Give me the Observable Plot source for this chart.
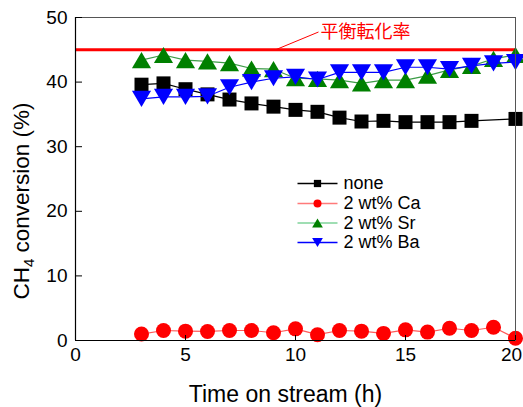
<!DOCTYPE html>
<html><head><meta charset="utf-8">
<script src="https://cdn.jsdelivr.net/npm/d3@7"></script>
<script src="https://cdn.jsdelivr.net/npm/@observablehq/plot@0.6"></script>
<style>html,body{margin:0;padding:0;background:#fff} svg{display:block}</style>
</head><body><div id="chart"></div>
<script>
// ---- data ----
const hours      = [3,4,5,6,7,8,9,10,11,12,13,14,15,16,17,18,19,20];
const noneHours  = [3,4,5,6,7,8,9,10,11,12,13,14,15,16,17,18,20];
const noneValues = [39.6,39.8,38.9,38.1,37.3,36.7,36.2,35.7,35.4,34.5,33.9,34.0,33.8,33.8,33.8,34.0,34.3];
const caValues   = [1.0,1.55,1.45,1.4,1.55,1.55,1.2,1.8,0.9,1.55,1.45,1.1,1.65,1.3,1.9,1.55,2.05,0.35];
const srValues   = [43.4,44.2,43.4,43.2,42.95,42.1,42.0,40.6,40.5,40.3,39.8,40.3,40.3,41.0,41.9,42.5,43.6,44.2];
const baValues   = [37.4,37.7,37.7,37.8,39.2,40.0,40.6,40.8,40.4,41.5,41.5,41.5,42.3,42.3,42.0,42.5,42.9,43.1];
const seriesNames = ["none","2 wt% Ca","2 wt% Sr","2 wt% Ba"];
const equilibrium = 45;
const annotationLabel = "平衡転化率";
const xTicks = [0,5,10,15,20];
const yTicks = [0,10,20,30,40,50];
const xLabel = "Time on stream (h)";
const yLabel = "CH4 conversion (%)";

// ---- styles ----
const font = "'Liberation Sans', Arial, Helvetica, sans-serif";
const markerColors = ["#000000","#ff0000","#008000","#0000ff"];
const lineColors   = ["#000000","#ff5a5a","#3c9c46","#0000ff"];
const legendLineColors = ["#000000","#ff7a7a","#7fd39a","#0000ff"];

// custom triangles centred on their bounding box
function tri(up){
  return {draw(ctx, size){
    const r = Math.sqrt(size/Math.PI);
    const w = 2.9*r, h = 2.45*r, s = up ? 1 : -1;
    ctx.moveTo(0, -s*h/2);
    ctx.lineTo(w/2, s*h/2);
    ctx.lineTo(-w/2, s*h/2);
    ctx.closePath();
  }};
}
const symbols = ["square","circle",tri(true),tri(false)];
const markerR = [7.9,7.5,6.6,6.6];
const legendR = [4.1,4.0,3.7,3.7];

const series = [
  noneHours.map((h,i)=>({h, v:noneValues[i]})),
  hours.map((h,i)=>({h, v:caValues[i]})),
  hours.map((h,i)=>({h, v:srValues[i]})),
  hours.map((h,i)=>({h, v:baValues[i]}))
];

// layout
const W = 523, H = 407, mL = 75, mR = 8, mT = 17, mB = 67;
const xs = d3.scaleLinear([0,20],[mL, W-mR]);
const ys = d3.scaleLinear([0,50],[H-mB, mT]);
// legend placement (pixel layout, converted to data space)
const legRowsPx = [183, 203, 222.5, 242];
const legend = seriesNames.map((name,i)=>({
  name, i,
  x1: xs.invert(297), x2: xs.invert(337), xm: xs.invert(317), xt: xs.invert(343),
  y: ys.invert(legRowsPx[i])
}));

const marks = [
  // red equilibrium line
  Plot.ruleY([equilibrium], {x1:0, x2:20, stroke:"#ff0000", strokeWidth:3}),
  Plot.link([{}], {x1: xs.invert(275), y1: equilibrium, x2: xs.invert(318), y2: ys.invert(31.5), stroke:"#ff0000", strokeWidth:1}),
  Plot.text([annotationLabel], {x: xs.invert(320), y: ys.invert(32), text:d=>d, textAnchor:"start", lineAnchor:"middle", fill:"#ff0000", fontSize:18, fontFamily:"'Noto Sans CJK JP', sans-serif"}),
];
series.forEach((data,i)=>{
  marks.push(Plot.line(data, {x:"h", y:"v", stroke:lineColors[i], strokeWidth:1.2}));
  marks.push(Plot.dot(data, {x:"h", y:"v", symbol:symbols[i], r:markerR[i], fill:markerColors[i], stroke:"none"}));
});
// legend
legend.forEach((d)=>{
  marks.push(Plot.link([d], {x1:"x1", x2:"x2", y1:"y", y2:"y", stroke:legendLineColors[d.i], strokeWidth:1.5}));
  marks.push(Plot.dot([d], {x:"xm", y:"y", symbol:symbols[d.i], r:legendR[d.i], fill:markerColors[d.i], stroke:"none"}));
  marks.push(Plot.text([d], {x:"xt", y:"y", text:"name", textAnchor:"start", lineAnchor:"middle", fontSize:18, fill:"#000", fontFamily:font}));
});
// frame & axes
const lastX = xTicks[xTicks.length-1];
marks.push(
  Plot.frame({stroke:"#555", strokeWidth:1}),
  Plot.ruleX([0], {stroke:"#000", strokeWidth:1.2}),
  Plot.ruleY([0], {stroke:"#000", strokeWidth:1.2}),
  Plot.axisY({ticks:yTicks, tickSize:7, dx:7, text:null, stroke:"#000", label:null}),
  Plot.axisY({ticks:yTicks, tickSize:0, tickPadding:8, fontSize:19, fill:"#000", fontFamily:font, label:null}),
  Plot.axisX({ticks:xTicks, tickSize:5, dy:-5, text:null, stroke:"#000", label:null}),
  Plot.axisX({ticks:xTicks.filter(t=>t!==lastX), tickSize:0, tickPadding:7, fontSize:19, fill:"#000", fontFamily:font, label:null}),
  Plot.axisX({ticks:[lastX], tickSize:0, tickPadding:7, dx:-4, fontSize:19, fill:"#000", fontFamily:font, label:null}),
  Plot.text([xLabel], {frameAnchor:"bottom", text:d=>d, textAnchor:"middle", dx:-10, dy:54, lineAnchor:"middle", fontSize:23, fill:"#000", fontFamily:font}),
  Plot.text([yLabel], {frameAnchor:"left", text:d=>d, textAnchor:"middle", rotate:-90, dx:-54, dy:22, lineAnchor:"middle", fontSize:22.5, fill:"#000", fontFamily:font, className:"ytitle"})
);

const chart = Plot.plot({
  width: W, height: H,
  marginLeft: mL, marginRight: mR, marginTop: mT, marginBottom: mB,
  x: {domain:[0,20]},
  y: {domain:[0,50]},
  style: {background:"#fff", fontFamily:font, overflow:"visible"},
  marks
});
document.getElementById("chart").appendChild(chart);

// subscript for CH4
d3.select(chart).selectAll(".ytitle text").each(function(){
  const t = d3.select(this);
  t.text(null);
  t.append("tspan").text("CH");
  t.append("tspan").attr("font-size","15").attr("dy","5").text("4");
  t.append("tspan").attr("dy","-5").text(" conversion (%)");
});
</script>
</body></html>
